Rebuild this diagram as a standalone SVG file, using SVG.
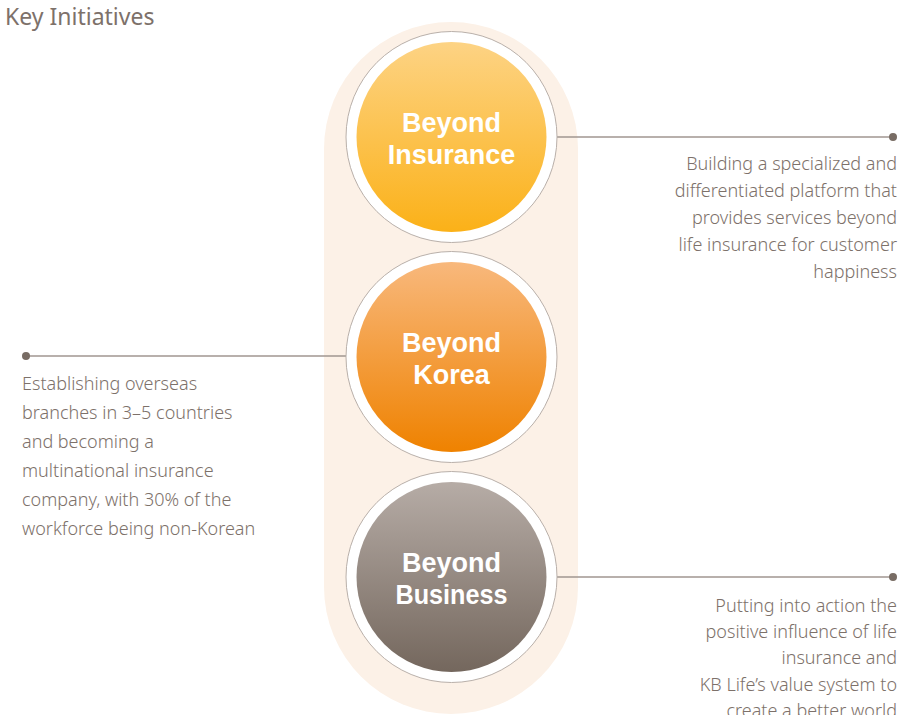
<svg xmlns="http://www.w3.org/2000/svg" width="915" height="715" viewBox="0 0 915 715">
<defs>
<linearGradient id="gY" x1="0" y1="0" x2="0" y2="1"><stop offset="0" stop-color="#fdd384"/><stop offset="1" stop-color="#fbb118"/></linearGradient>
<linearGradient id="gO" x1="0" y1="0" x2="0" y2="1"><stop offset="0" stop-color="#f8b87c"/><stop offset="1" stop-color="#ef8200"/></linearGradient>
<linearGradient id="gB" x1="0" y1="0" x2="0" y2="1"><stop offset="0" stop-color="#b6aca6"/><stop offset="1" stop-color="#74675d"/></linearGradient>
<style>
.ring{fill:#ffffff;stroke:#b9b0aa;stroke-width:1}
.title{font-family:"Liberation Sans",Arial,sans-serif;font-weight:bold;font-size:27px;fill:#ffffff;text-anchor:middle}
.desc{font-family:"Noto Sans","Liberation Sans",sans-serif;font-weight:300;font-size:18px;fill:#7d716a}
.r{text-anchor:end}
.line{stroke:#a09690;stroke-width:1.5;fill:none}
.dot{fill:#786c64}
</style>
</defs>
<rect width="915" height="715" fill="#ffffff"/>
<text x="5" y="25" font-family="'Noto Sans','Liberation Sans',sans-serif" font-size="23" fill="#7d716a">Key Initiatives</text>
<rect x="324" y="22" width="254" height="692" rx="127" ry="127" fill="#fcf1e7"/>
<g id="connectors">
<line class="line" x1="557" y1="137" x2="893" y2="137"/>
<circle class="dot" cx="893" cy="137" r="4"/>
<line class="line" x1="26" y1="356" x2="346" y2="356"/>
<circle class="dot" cx="26" cy="356" r="4"/>
<line class="line" x1="557" y1="577" x2="893" y2="577"/>
<circle class="dot" cx="893" cy="577" r="4"/>
</g>
<g id="insurance">
<circle class="ring" cx="451.5" cy="137" r="105.5"/>
<circle cx="451.5" cy="137" r="95" fill="url(#gY)"/>
<text class="title" x="451.5" y="132">Beyond</text>
<text class="title" x="451.5" y="164">Insurance</text>
</g>
<g id="korea">
<circle class="ring" cx="451.5" cy="357" r="105.5"/>
<circle cx="451.5" cy="357" r="95" fill="url(#gO)"/>
<text class="title" x="451.5" y="352">Beyond</text>
<text class="title" x="451.5" y="384">Korea</text>
</g>
<g id="business">
<circle class="ring" cx="451.5" cy="577" r="105.5"/>
<circle cx="451.5" cy="577" r="95" fill="url(#gB)"/>
<text class="title" x="451.5" y="572">Beyond</text>
<text class="title" x="451.5" y="604" textLength="112" lengthAdjust="spacingAndGlyphs">Business</text>
</g>
<g id="desc-insurance">
<text class="desc r" x="897" y="170">Building a specialized and</text>
<text class="desc r" x="897" y="197">differentiated platform that</text>
<text class="desc r" x="897" y="224">provides services beyond</text>
<text class="desc r" x="897" y="251">life insurance for customer</text>
<text class="desc r" x="897" y="278">happiness</text>
</g>
<g id="desc-korea">
<text class="desc" x="22" y="390">Establishing overseas</text>
<text class="desc" x="22" y="419">branches in 3–5 countries</text>
<text class="desc" x="22" y="448">and becoming a</text>
<text class="desc" x="22" y="477">multinational insurance</text>
<text class="desc" x="22" y="506">company, with 30% of the</text>
<text class="desc" x="22" y="535">workforce being non-Korean</text>
</g>
<g id="desc-business">
<text class="desc r" x="897" y="612">Putting into action the</text>
<text class="desc r" x="897" y="638">positive influence of life</text>
<text class="desc r" x="897" y="664">insurance and</text>
<text class="desc r" x="897" y="691">KB Life’s value system to</text>
<text class="desc r" x="897" y="717">create a better world</text>
</g>
</svg>
